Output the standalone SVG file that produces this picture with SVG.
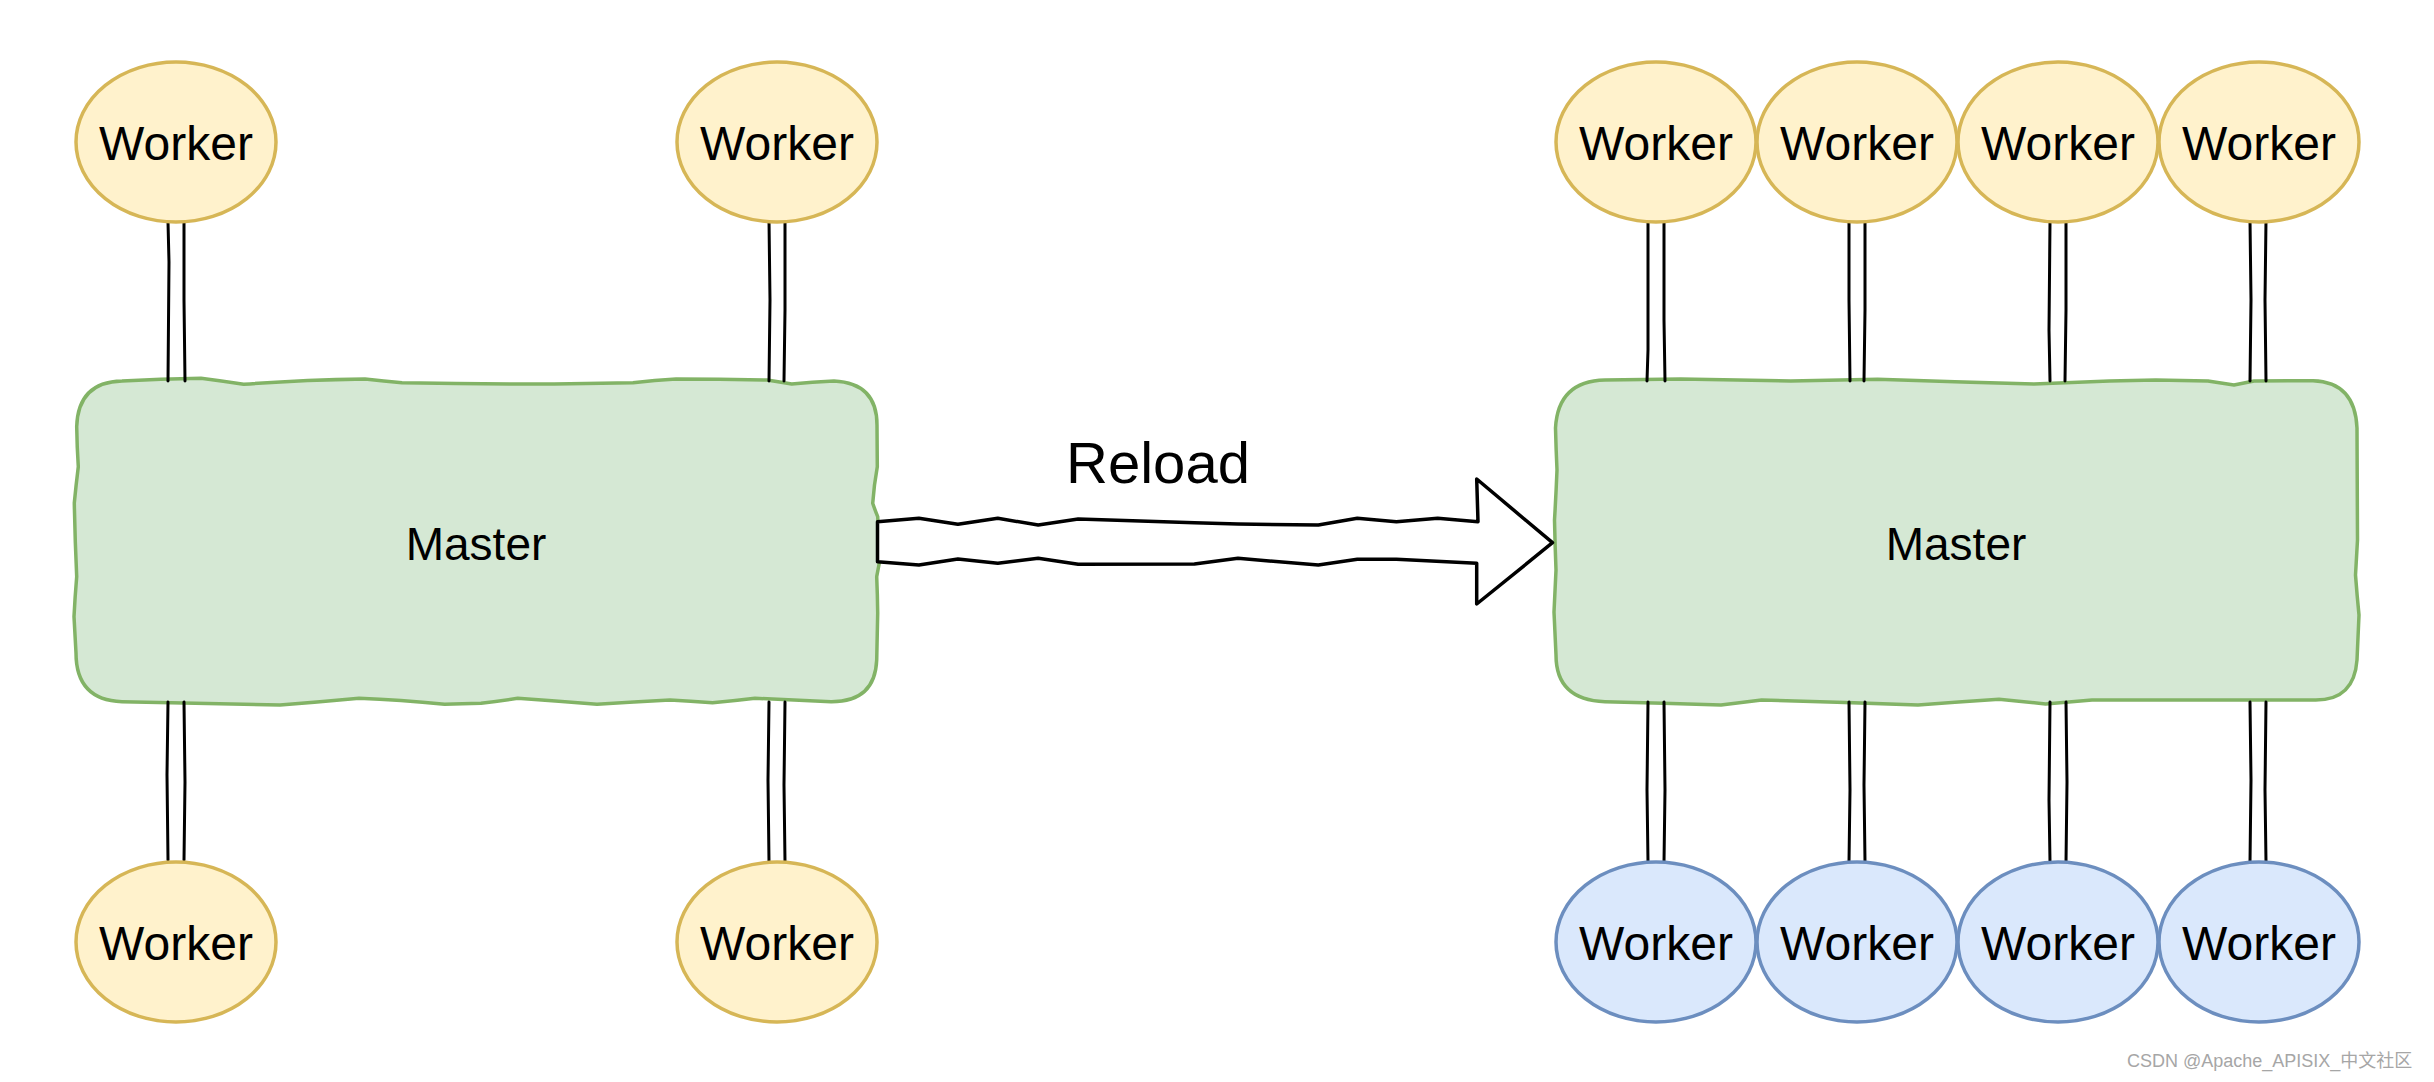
<svg xmlns="http://www.w3.org/2000/svg" width="2434" height="1082" viewBox="0 0 2434 1082">
<style>
.wy{fill:#fff2cc;stroke:#d6b656;stroke-width:3.5}
.wb{fill:#dae8fc;stroke:#6c8ebf;stroke-width:3.5}
.ms{fill:#d5e8d4;stroke:#82b366;stroke-width:3.5;stroke-linejoin:round}
.lbl{font-family:"Liberation Sans",Arial,Helvetica,sans-serif;fill:#000;text-anchor:middle}
.wk{font-size:48px}
.mt{font-size:46px}
.ln{fill:none;stroke:#000;stroke-width:3;stroke-linecap:round;stroke-linejoin:round}
</style>
<rect width="2434" height="1082" fill="#fff"/>

<g id="master-left">
  <path class="ms" d="M122 381 Q160 379 201 378.3 Q222 381 243.6 384.3 Q300 380 365 379 Q384 381 402 382.7 Q480 384 554 384 Q594 383.5 633 382.7 Q655 380 676 379 Q720 379 767 380 Q780 382 791.7 384 Q812 382 834 381 Q877 383 877 425 L877.3 466.7 Q874 485 872.7 503.3 Q875 510 877.7 516.7 Q879 540 879.3 563 Q878 570 876.7 576.7 Q877.5 595 877.7 613 L876.7 660 Q875 702 831 701.7 Q793 700 755 698.3 Q733 701 712.5 702.7 Q690 701 670 700 Q632 702 597 704.3 Q556 701 517.7 698.3 Q499 701 481 703.3 Q462 704 444.6 704.3 Q400 700 359 698.3 Q320 702 280 705 Q200 703 122 701.7 Q76 700 76 653 Q75 635 74 616.7 Q75 597 76.7 576.7 Q75 540 74.3 503 Q76 485 78.3 466.7 Q77 447 76.7 426.7 Q78 382 122 381 Z"/>
  <text class="lbl mt" x="476" y="560">Master</text>
</g>

<g id="master-right">
  <path class="ms" d="M1605 380 Q1643 379.5 1680.6 379 Q1735 380 1790.7 381 Q1834 380 1877.6 379.3 Q1955 382 2034 384 Q2072 382.5 2109.4 381 Q2132 380.5 2155.7 380 Q2182 380.5 2207.9 381 Q2221 383 2234 385 Q2244 383 2254 381 Q2284 380.8 2313 380.7 Q2355 382 2357 428 L2357.5 540 Q2356.5 557 2355.5 575 Q2357 595 2359 615 L2357 660 Q2354 702 2312 700 Q2200 700 2092 700 Q2069 702 2045.6 704 Q2022 701.5 1999 699.3 Q1958 702 1918 705 Q1840 702 1761.7 700 Q1741 702.5 1721 705 Q1663 703 1605 701.7 Q1556 700 1556 655 Q1555 633 1554 612 Q1555 591 1556 570 Q1555 545 1554.5 520 Q1556 495 1557 470 Q1556 449 1555.5 428 Q1558 381 1605 380 Z"/>
  <text class="lbl mt" x="1956" y="560">Master</text>
</g>

<g id="connectors">
  <path class="ln" d="M168 222 L169 262 L168 381 M184 222 L184 300 L185 381"/>
  <path class="ln" d="M769 220 L770 300 L769 381 M785 220 L785 310 L784 381"/>
  <path class="ln" d="M168 702 L167 775 L168 860 M184 702 L185 782 L184 860"/>
  <path class="ln" d="M769 702 L768 780 L769 862 M785 702 L784 785 L785 862"/>
  <path class="ln" d="M1648 222 L1648 350 L1647 381 M1664 222 L1664 320 L1665 381"/>
  <path class="ln" d="M1849 222 L1849 300 L1850 381 M1865 222 L1865 310 L1864 381"/>
  <path class="ln" d="M2050 222 L2049 330 L2050 381 M2066 222 L2066 310 L2065 381"/>
  <path class="ln" d="M2250 220 L2251 300 L2250 381 M2266 220 L2265 300 L2266 381"/>
  <path class="ln" d="M1648 702 L1647 790 L1648 862 M1664 702 L1665 790 L1664 862"/>
  <path class="ln" d="M1849 702 L1850 790 L1849 862 M1865 702 L1864 785 L1865 862"/>
  <path class="ln" d="M2050 702 L2049 800 L2050 862 M2066 702 L2067 782 L2066 862"/>
  <path class="ln" d="M2250 702 L2251 780 L2250 862 M2266 702 L2265 790 L2266 862"/>
  <path d="M877.5 521.7 L918.9 518.3 L957.9 524.3 L997.8 518.3 L1038.2 525 L1078.2 519 L1194.4 522.7 L1238 524 L1318.3 525 L1357.3 518.3 L1396.4 521.7 L1437.7 518.3 L1478 521.7 L1476.7 479 L1552.5 542.7 L1476.7 604 L1476.7 563.3 L1396.4 559.3 L1357.3 559.3 L1318.3 565 L1238 558.3 L1194.4 564 L1078.2 564.3 L1038.2 558.3 L997.8 563.3 L957.9 559 L918.9 565 L877.5 561.7 Z" fill="#fff" stroke="#000" stroke-width="3.5" stroke-linejoin="round"/>
  <text class="lbl" x="1158" y="483" font-size="58">Reload</text>
</g>

<g id="worker-l1"><ellipse class="wy" cx="176" cy="142" rx="100" ry="80"/><text class="lbl wk" x="176" y="160">Worker</text></g>
<g id="worker-l2"><ellipse class="wy" cx="777" cy="142" rx="100" ry="80"/><text class="lbl wk" x="777" y="160">Worker</text></g>
<g id="worker-l3"><ellipse class="wy" cx="176" cy="942" rx="100" ry="80"/><text class="lbl wk" x="176" y="960">Worker</text></g>
<g id="worker-l4"><ellipse class="wy" cx="777" cy="942" rx="100" ry="80"/><text class="lbl wk" x="777" y="960">Worker</text></g>

<g id="worker-r1"><ellipse class="wy" cx="1656" cy="142" rx="100" ry="80"/><text class="lbl wk" x="1656" y="160">Worker</text></g>
<g id="worker-r2"><ellipse class="wy" cx="1857" cy="142" rx="100" ry="80"/><text class="lbl wk" x="1857" y="160">Worker</text></g>
<g id="worker-r3"><ellipse class="wy" cx="2058" cy="142" rx="100" ry="80"/><text class="lbl wk" x="2058" y="160">Worker</text></g>
<g id="worker-r4"><ellipse class="wy" cx="2259" cy="142" rx="100" ry="80"/><text class="lbl wk" x="2259" y="160">Worker</text></g>

<g id="worker-r5"><ellipse class="wb" cx="1656" cy="942" rx="100" ry="80"/><text class="lbl wk" x="1656" y="960">Worker</text></g>
<g id="worker-r6"><ellipse class="wb" cx="1857" cy="942" rx="100" ry="80"/><text class="lbl wk" x="1857" y="960">Worker</text></g>
<g id="worker-r7"><ellipse class="wb" cx="2058" cy="942" rx="100" ry="80"/><text class="lbl wk" x="2058" y="960">Worker</text></g>
<g id="worker-r8"><ellipse class="wb" cx="2259" cy="942" rx="100" ry="80"/><text class="lbl wk" x="2259" y="960">Worker</text></g>

<text x="2127" y="1067" font-family="'Liberation Sans','Noto Sans CJK SC',sans-serif" font-size="18" fill="#a6a6a6">CSDN @Apache_APISIX_中文社区</text>
</svg>
